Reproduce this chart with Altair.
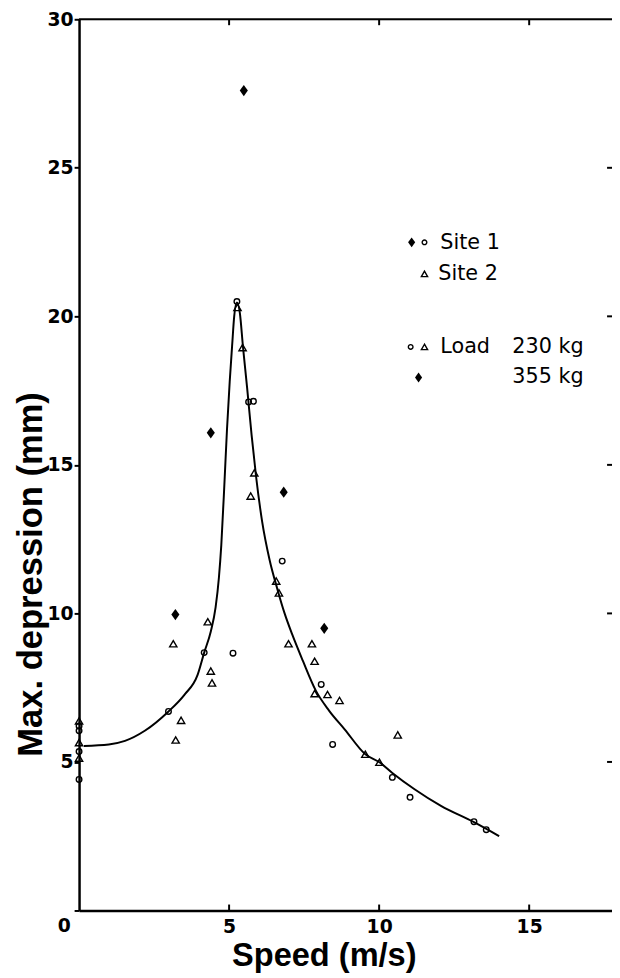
import altair as alt
import pandas as pd

# ---------------- data ----------------
# Site 1, load 230 kg (open circles)
circ_x = [0, 0, 0, 0, 2.98, 4.17, 5.13, 5.26, 5.65, 5.81, 6.77, 8.07, 8.45, 10.44, 11.03, 13.16, 13.57]
circ_y = [6.21, 6.05, 5.35, 4.41, 6.70, 8.68, 8.66, 20.50, 17.12, 17.14, 11.76, 7.61, 5.59, 4.48, 3.81, 2.99, 2.72]

# Site 2, load 230 kg (open triangles)
tri_x = [0, 0, 0, 3.14, 3.22, 3.40, 4.29, 4.39, 4.43, 5.28, 5.45, 5.72, 5.84, 6.57, 6.66,
         6.98, 7.76, 7.85, 7.85, 8.28, 8.68, 9.54, 10.01, 10.62]
tri_y = [6.38, 5.65, 5.13, 8.98, 5.74, 6.40, 9.72, 8.06, 7.66, 20.30, 18.95, 13.95, 14.73, 11.09, 10.69,
         8.98, 8.98, 8.39, 7.30, 7.27, 7.07, 5.26, 4.99, 5.91]

# Site 1, load 355 kg (filled diamonds)
dia_x = [5.49, 4.39, 6.82, 3.21, 8.17]
dia_y = [27.6, 16.08, 14.08, 9.96, 9.50]

# fitted curve
curve_x = [0.16, 0.99, 1.53, 2.19, 2.98, 3.51, 3.95, 4.17, 4.39, 4.55, 4.66, 4.74, 4.85, 4.93, 5.02,
           5.10, 5.17, 5.26, 5.36, 5.46, 5.60, 5.75, 5.90, 6.10, 6.35, 6.60, 6.85, 7.10, 7.46, 7.89,
           8.33, 8.85, 9.54, 10.01, 10.44, 11.18, 12.06, 13.16, 14.0]
curve_y = [5.54, 5.59, 5.71, 6.05, 6.70, 7.26, 7.93, 8.68, 9.39, 10.20, 11.20, 12.30, 14.50, 16.20, 17.80,
           19.00, 20.00, 20.47, 20.10, 19.00, 17.60, 16.00, 14.60, 13.10, 11.80, 10.85, 10.00, 9.30, 8.40, 7.40,
           6.73, 6.10, 5.26, 4.99, 4.63, 4.08, 3.52, 2.97, 2.50]

x_ticks = [0, 5, 10, 15]
y_ticks = [0, 5, 10, 15, 20, 25, 30]
inner_x_ticks = [5, 10, 15]
inner_y_ticks = [5, 10, 15, 20, 25]

legend_site1 = "Site 1"
legend_site2 = "Site 2"
legend_load = "Load"
legend_230 = "230 kg"
legend_355 = "355 kg"

# ---------------- chart ----------------
W, H = 540, 903
X_MAX = 17.76
TITLE_FONT = "Liberation Sans"
TICK_FONT = "DejaVu Sans"
LEG_FONT = "DejaVu Sans"

xs = alt.Scale(domain=[0, X_MAX], nice=False, zero=False)
ys = alt.Scale(domain=[0, 30], nice=False, zero=False)

x_axis = alt.Axis(
    values=x_ticks, labelExpr="datum.value == 0 ? '' : datum.label",
    ticks=False, grid=False, domain=True, domainColor="black", domainWidth=2.5,
    labelFont=TICK_FONT, labelFontWeight="bold", labelFontSize=19, labelColor="black",
    labelPadding=7, title="Speed (m/s)", titleFont=TITLE_FONT, titleFontWeight="bold",
    titleFontSize=33, titleColor="black", titleX=248, titleY=56, titleBaseline="alphabetic",
    titleAlign="center",
)
y_axis = alt.Axis(
    values=y_ticks, labelExpr="datum.value == 0 ? '' : datum.label",
    ticks=True, tickSize=5, tickWidth=2, tickColor="black", grid=False,
    domain=True, domainColor="black", domainWidth=2.5,
    labelFont=TICK_FONT, labelFontWeight="bold", labelFontSize=19, labelColor="black",
    labelPadding=1, title="Max. depression (mm)", titleFont=TITLE_FONT, titleFontWeight="bold",
    titleFontSize=35, titleColor="black", titleAngle=270, titleX=-31, titleY=562,
    titleBaseline="bottom", titleAlign="center",
)

X = alt.X("x:Q", scale=xs, axis=x_axis)
Y = alt.Y("y:Q", scale=ys, axis=y_axis)

df_curve = pd.DataFrame({"x": curve_x, "y": curve_y})
df_circ = pd.DataFrame({"x": circ_x, "y": circ_y})
df_tri = pd.DataFrame({"x": tri_x, "y": tri_y})
df_dia = pd.DataFrame({"x": dia_x, "y": dia_y})
df_xt = pd.DataFrame({"x": inner_x_ticks})
df_yt = pd.DataFrame({"y": inner_y_ticks})
one = pd.DataFrame({"k": [0]})

DIAMOND = "M0,-1L0.72,0L0,1L-0.72,0Z"

curve = alt.Chart(df_curve).mark_line(color="black", strokeWidth=2, interpolate="monotone").encode(x=X, y=Y)
circ = alt.Chart(df_circ).mark_point(shape="circle", filled=False, color="black", strokeWidth=1.4, size=32, opacity=1).encode(x=X, y=Y)
tri = alt.Chart(df_tri).mark_point(shape="triangle-up", filled=False, color="black", strokeWidth=1.4, size=55, opacity=1).encode(x=X, y=Y)
dia = alt.Chart(df_dia).mark_point(shape=DIAMOND, filled=True, color="black", size=130, opacity=1).encode(x=X, y=Y)

tick_bottom = alt.Chart(df_xt).mark_rule(color="black", strokeWidth=2).encode(x=X, y=alt.value(H), y2=alt.value(H - 6))
tick_top = alt.Chart(df_xt).mark_rule(color="black", strokeWidth=2).encode(x=X, y=alt.value(0), y2=alt.value(6))
tick_right = alt.Chart(df_yt).mark_rule(color="black", strokeWidth=2).encode(y=Y, x=alt.value(W), x2=alt.value(W - 5))
top_line = alt.Chart(one).mark_rule(color="black", strokeWidth=2).encode(x=alt.value(0), x2=alt.value(W), y=alt.value(0))

zero_lbl = alt.Chart(one).mark_text(font=TICK_FONT, fontWeight="bold", fontSize=19, baseline="middle", align="center", color="black").encode(
    x=alt.value(-15), y=alt.value(919), text=alt.value("0"))


def sym(shape, px, py, size, filled, sw=1.4):
    return alt.Chart(one).mark_point(shape=shape, filled=filled, color="black", size=size, strokeWidth=sw, opacity=1).encode(
        x=alt.value(px), y=alt.value(py))


def txt(s, px, py):
    return alt.Chart(one).mark_text(font=LEG_FONT, fontSize=21, align="left", baseline="middle", color="black").encode(
        x=alt.value(px), y=alt.value(py), text=alt.value(s))


legend = [
    sym(DIAMOND, 337, 226, 100, True), sym("circle", 350, 226, 22, False), txt(legend_site1, 366, 227),
    sym("triangle-up", 350, 258, 40, False), txt(legend_site2, 364, 258),
    sym("circle", 336, 332, 22, False), sym("triangle-up", 350, 332, 40, False), txt(legend_load, 366, 332), txt(legend_230, 439, 332),
    sym(DIAMOND, 344, 363, 100, True), txt(legend_355, 439, 363),
]

chart = alt.layer(
    curve, circ, tri, dia, tick_bottom, tick_top, tick_right, top_line, zero_lbl, *legend
).properties(
    width=W, height=H,
    autosize=alt.AutoSizeParams(type="none"),
    padding={"left": 72, "top": 5, "right": 0, "bottom": 62},
).configure_view(stroke=None).configure(background="white")

chart.save("out.html", embed_options={"renderer": "svg", "actions": False})
